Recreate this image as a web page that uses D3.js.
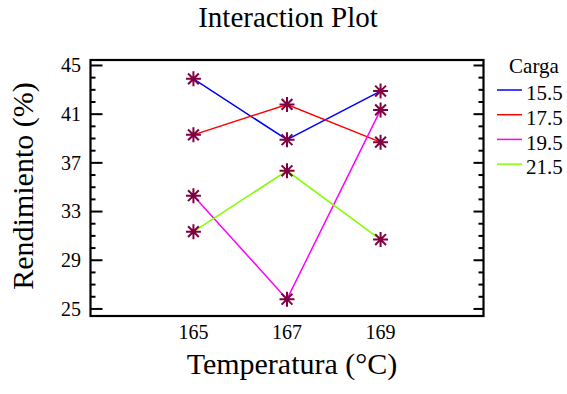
<!DOCTYPE html>
<html><head><meta charset="utf-8">
<script src="https://cdn.jsdelivr.net/npm/d3@7"></script>
<style>body{margin:0;background:#fff}svg{display:block}text{font-family:"Liberation Serif","Times New Roman",serif;fill:#000}</style>
</head><body>
<script>
const temperatures = [165, 167, 169];
const cargas = ["15.5", "17.5", "19.5", "21.5"];
const colors = ["#0000ff", "#ff0000", "#ff00ff", "#80ff00"];
const s155 = [43.9, 38.9, 42.9];
const s175 = [39.3, 41.8, 38.7];
const s195 = [34.3, 25.8, 41.35];
const s215 = [31.35, 36.35, 30.7];
const series = [s155, s175, s195, s215];
const yTicks = [25, 29, 33, 37, 41, 45];
const xTicks = [165, 167, 169];

const W = 567, H = 394;
const m = {l: 90.5, r: 483.5, t: 60, b: 316};
const svg = d3.select("body").append("svg").attr("width", W).attr("height", H);
const x = d3.scaleLinear().domain([162.8, 171.2]).range([m.l, m.r]);
const y = d3.scaleLinear().domain([24.42, 45.45]).range([m.b, m.t]);

// frame
svg.append("rect").attr("x", m.l).attr("y", m.t).attr("width", m.r - m.l).attr("height", m.b - m.t)
  .attr("fill", "none").attr("stroke", "#000").attr("stroke-width", 2.2);

// axis ticks
const minor = d3.range(25, 46, 1);
const gl = svg.append("g");
gl.selectAll("line.mi").data(minor).join("line")
  .attr("x1", m.l).attr("x2", d => m.l + (yTicks.includes(d) ? 12 : 5))
  .attr("y1", d => y(d)).attr("y2", d => y(d)).attr("stroke", "#000").attr("stroke-width", 2);
gl.selectAll("line.mr").data(minor).join("line")
  .attr("x1", m.r).attr("x2", d => m.r - (yTicks.includes(d) ? 10 : 5))
  .attr("y1", d => y(d)).attr("y2", d => y(d)).attr("stroke", "#000").attr("stroke-width", 2);
svg.append("g").selectAll("text").data(yTicks).join("text")
  .attr("x", 81).attr("y", d => y(d)).attr("dy", "0.34em").attr("text-anchor", "end")
  .attr("font-size", 20).text(d => d);
svg.append("g").selectAll("text").data(xTicks).join("text")
  .attr("x", d => x(d)).attr("y", 339).attr("text-anchor", "middle")
  .attr("font-size", 20).text(d => d);

// lines
const line = d3.line().x((d, i) => x(temperatures[i])).y(d => y(d));
series.forEach((s, k) => {
  svg.append("path").datum(s).attr("d", line).attr("fill", "none")
    .attr("stroke", colors[k]).attr("stroke-width", 1.5);
});
// markers
const r = 7.5;
const star = `M${-r},0L${r},0M0,${-r}L0,${r}M${-r*0.72},${-r*0.72}L${r*0.72},${r*0.72}M${-r*0.72},${r*0.72}L${r*0.72},${-r*0.72}`;
series.forEach((s, k) => {
  svg.append("g").selectAll("path").data(s).join("path")
    .attr("transform", (d, i) => `translate(${x(temperatures[i])},${y(d)})`)
    .attr("d", star).attr("stroke", "#800040").attr("stroke-width", 2).attr("fill", "none");
});

// titles
svg.append("text").attr("x", 288).attr("y", 27).attr("text-anchor", "middle").attr("font-size", 29).text("Interaction Plot");
svg.append("text").attr("x", 292).attr("y", 374).attr("text-anchor", "middle").attr("font-size", 30).text("Temperatura (°C)");
svg.append("text").attr("transform", "translate(33,186) rotate(-90)").attr("text-anchor", "middle").attr("font-size", 30).text("Rendimiento (%)");

// legend
const lg = svg.append("g");
lg.append("text").attr("x", 534).attr("y", 73).attr("text-anchor", "middle").attr("font-size", 21).text("Carga");
cargas.forEach((c, k) => {
  const yy = 90 + k * 24.7;
  lg.append("line").attr("x1", 497).attr("x2", 522).attr("y1", yy).attr("y2", yy).attr("stroke", colors[k]).attr("stroke-width", 1.5);
  lg.append("text").attr("x", 526).attr("y", yy + 3).attr("dy", "0.34em").attr("font-size", 21).text(c);
});
</script>
</body></html>
